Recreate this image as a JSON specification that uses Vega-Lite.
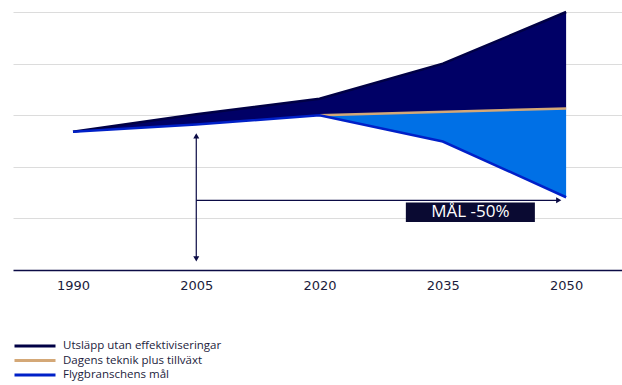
{
  "$schema": "https://vega.github.io/schema/vega-lite/v6.json",
  "width": 609,
  "height": 258,
  "autosize": {"type": "none"},
  "padding": {"left": 13, "top": 12, "right": 0, "bottom": 115},
  "background": "white",
  "config": {
    "view": {"stroke": null},
    "font": "DejaVu Sans"
  },
  "datasets": {
    "lines": [
      {"year": 1990, "series": "Utsläpp utan effektiviseringar", "value": 134},
      {"year": 2005, "series": "Utsläpp utan effektiviseringar", "value": 151},
      {"year": 2020, "series": "Utsläpp utan effektiviseringar", "value": 166},
      {"year": 2035, "series": "Utsläpp utan effektiviseringar", "value": 200},
      {"year": 2050, "series": "Utsläpp utan effektiviseringar", "value": 250},
      {"year": 2020, "series": "Dagens teknik plus tillväxt", "value": 150},
      {"year": 2050, "series": "Dagens teknik plus tillväxt", "value": 156.5},
      {"year": 1990, "series": "Flygbranschens mål", "value": 134},
      {"year": 2005, "series": "Flygbranschens mål", "value": 141},
      {"year": 2020, "series": "Flygbranschens mål", "value": 150},
      {"year": 2035, "series": "Flygbranschens mål", "value": 124.5},
      {"year": 2050, "series": "Flygbranschens mål", "value": 70.5}
    ],
    "bands": [
      {"year": 1990, "band": "growth", "lo": 134, "hi": 134},
      {"year": 2005, "band": "growth", "lo": 141, "hi": 151},
      {"year": 2020, "band": "growth", "lo": 150, "hi": 166},
      {"year": 2035, "band": "growth", "lo": 153.25, "hi": 200},
      {"year": 2050, "band": "growth", "lo": 156.5, "hi": 250},
      {"year": 2020, "band": "goal", "lo": 150, "hi": 150},
      {"year": 2035, "band": "goal", "lo": 124.5, "hi": 153.25},
      {"year": 2050, "band": "goal", "lo": 70.5, "hi": 156.5}
    ],
    "vrule": [{"year": 2005, "lo": 10.7, "hi": 130}],
    "hrule": [{"from": 2005, "to": 2049.1, "value": 67.5}],
    "heads": [
      {"year": 2005, "value": 130, "dir": "up"},
      {"year": 2005, "value": 10.7, "dir": "down"},
      {"year": 2049.1, "value": 67.5, "dir": "right"}
    ],
    "label": [{"x1": 2030.5, "x2": 2046.2, "y1": 46.5, "y2": 65.5, "xc": 2038.35, "yc": 56, "text": "MÅL -50%"}]
  },
  "layer": [
    {
      "data": {"name": "bands"},
      "transform": [{"filter": "datum.band === 'growth'"}],
      "mark": {"type": "area", "color": "#000066", "opacity": 1},
      "encoding": {
        "x": {
          "field": "year", "type": "quantitative",
          "scale": {"domain": [1982.7, 2056.8], "nice": false, "zero": false},
          "axis": {
            "values": [1990, 2005, 2020, 2035, 2050],
            "format": "d",
            "title": null,
            "grid": false,
            "ticks": false,
            "domainColor": "#0b0b45",
            "domainWidth": 1.5,
            "labelFontSize": 13,
            "labelColor": "#1c1c3c",
            "labelPadding": 9,
            "labelFont": "DejaVu Sans"
          }
        },
        "y": {
          "field": "hi", "type": "quantitative",
          "scale": {"domain": [0, 250], "nice": false},
          "axis": {
            "values": [50, 100, 150, 200, 250],
            "title": null,
            "labels": false,
            "ticks": false,
            "domain": false,
            "grid": true,
            "gridColor": "#dcdcdc",
            "gridWidth": 1
          }
        },
        "y2": {"field": "lo"}
      }
    },
    {
      "data": {"name": "bands"},
      "transform": [{"filter": "datum.band === 'goal'"}],
      "mark": {"type": "area", "color": "#0070e6", "opacity": 1},
      "encoding": {
        "x": {"field": "year", "type": "quantitative"},
        "y": {"field": "hi", "type": "quantitative"},
        "y2": {"field": "lo"}
      }
    },
    {
      "data": {"name": "lines"},
      "mark": {"type": "line", "strokeWidth": 2.5},
      "encoding": {
        "x": {"field": "year", "type": "quantitative"},
        "y": {"field": "value", "type": "quantitative"},
        "color": {
          "field": "series", "type": "nominal",
          "scale": {
            "domain": ["Utsläpp utan effektiviseringar", "Dagens teknik plus tillväxt", "Flygbranschens mål"],
            "range": ["#000045", "#d4a877", "#0020c8"]
          },
          "legend": {
            "title": null,
            "orient": "none",
            "legendX": 0,
            "legendY": 327,
            "direction": "vertical",
            "symbolType": "stroke",
            "symbolSize": 1681,
            "symbolStrokeWidth": 3,
            "clipHeight": 14,
            "rowPadding": 0.5,
            "padding": 0,
            "labelOffset": 6,
            "labelFontSize": 11.5,
            "labelFont": "Open Sans",
            "labelColor": "#1c1c3c",
            "labelLimit": 400
          }
        },
        "order": {"field": "year", "type": "quantitative"}
      }
    },
    {
      "data": {"name": "vrule"},
      "mark": {"type": "rule", "color": "#0b0b45", "strokeWidth": 1.2},
      "encoding": {
        "x": {"field": "year", "type": "quantitative"},
        "y": {"field": "lo", "type": "quantitative"},
        "y2": {"field": "hi"}
      }
    },
    {
      "data": {"name": "hrule"},
      "mark": {"type": "rule", "color": "#0b0b45", "strokeWidth": 1.2},
      "encoding": {
        "x": {"field": "from", "type": "quantitative"},
        "x2": {"field": "to"},
        "y": {"field": "value", "type": "quantitative"}
      }
    },
    {
      "data": {"name": "heads"},
      "mark": {"type": "point", "filled": true, "color": "#0b0b45", "size": 36, "opacity": 1},
      "encoding": {
        "x": {"field": "year", "type": "quantitative"},
        "y": {"field": "value", "type": "quantitative"},
        "shape": {
          "field": "dir", "type": "nominal",
          "scale": {"domain": ["up", "down", "right"], "range": ["triangle-up", "triangle-down", "triangle-right"]},
          "legend": null
        }
      }
    },
    {
      "data": {"name": "label"},
      "mark": {"type": "rect", "color": "#0a0a32"},
      "encoding": {
        "x": {"field": "x1", "type": "quantitative"},
        "x2": {"field": "x2"},
        "y": {"field": "y1", "type": "quantitative"},
        "y2": {"field": "y2"}
      }
    },
    {
      "data": {"name": "label"},
      "mark": {"type": "text", "color": "white", "font": "Open Sans", "fontSize": 17, "align": "center", "baseline": "middle"},
      "encoding": {
        "x": {"field": "xc", "type": "quantitative"},
        "y": {"field": "yc", "type": "quantitative"},
        "text": {"field": "text"}
      }
    }
  ]
}
